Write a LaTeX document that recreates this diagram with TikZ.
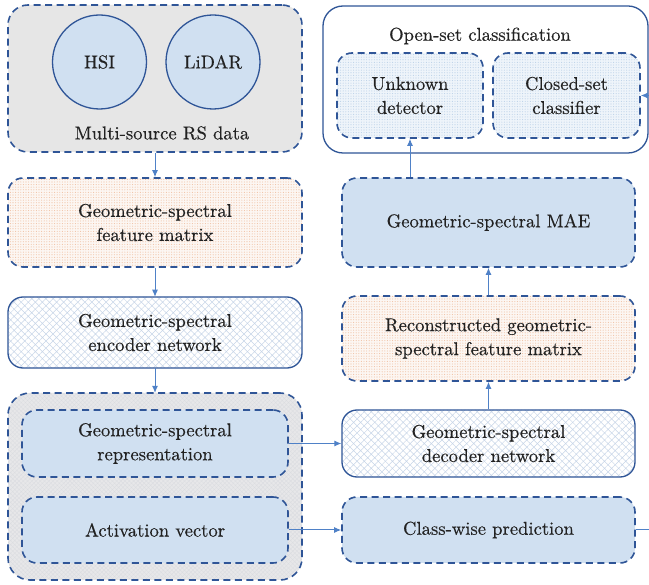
\documentclass[tikz,border=0pt]{standalone}
\usepackage{fontspec}
\setmainfont{lmroman10-regular.otf}[FakeBold=0.4]
\usetikzlibrary{arrows.meta,patterns.meta}
\definecolor{edgeblue}{HTML}{2F5597}
\definecolor{linkblue}{HTML}{4F81C7}
\definecolor{paleblue}{HTML}{D0E0F1}
\definecolor{palegray}{HTML}{E6E6E6}
\definecolor{hatchbase}{HTML}{E7E7E9}
\definecolor{hatchgray}{HTML}{DADCE0}
\definecolor{peachbase}{HTML}{FCF6F2}
\definecolor{peachdot}{HTML}{F0C2A4}
\definecolor{icebase}{HTML}{EEF4FA}
\definecolor{icedot}{HTML}{BCD1E8}
\definecolor{meshline}{HTML}{C8D6E8}
\definecolor{inkgray}{HTML}{222222}
\tikzset{
  every node/.style={text=inkgray, font=\rmfamily\fontsize{18.6}{24}\selectfont, align=center},
  dashbox/.style={draw=edgeblue, line width=1.6pt, dash pattern=on 7pt off 4.5pt, rounded corners=15pt},
  solidbox/.style={draw=edgeblue, line width=1.3pt, rounded corners=15pt},
  bluefill/.style={fill=paleblue},
  grayfill/.style={fill=palegray},
  peachfill/.style={preaction={fill=peachbase}, pattern={Dots[distance=2.6pt, radius=0.55pt]}, pattern color=peachdot},
  icefill/.style={preaction={fill=icebase}, pattern={Dots[distance=2.6pt, radius=0.55pt]}, pattern color=icedot},
  meshfill/.style={preaction={fill=white}, pattern={Hatch[angle=45, distance=5pt, line width=0.5pt]}, pattern color=meshline},
  hatchfill/.style={preaction={fill=hatchbase}, pattern={Hatch[angle=45, distance=3pt, line width=0.3pt]}, pattern color=hatchgray},
  link/.style={draw=linkblue, line width=1pt, -{Latex[length=7pt,width=6pt]}},
  disc/.style={circle, draw=edgeblue, line width=1.3pt, fill=paleblue, minimum size=94pt, inner sep=0pt}
}
\begin{document}
\begin{tikzpicture}[x=1pt,y=-1pt]
\clip (0,0) rectangle (649,585);
\fill[white] (0,0) rectangle (649,585);

% left column
\node[dashbox, grayfill, rounded corners=20pt, minimum width=294pt, minimum height=147pt] (src) at (155,78.5) {};
\node[disc] (hsi) at (99.5,62) {HSI};
\node[disc] (lidar) at (213,62) {LiDAR};
\node (srclabel) at (162,133) {Multi-source RS data};

\node[dashbox, peachfill, minimum width=294pt, minimum height=89pt] (feat) at (155,222.5) {Geometric-spectral\\feature matrix};
\node[solidbox, meshfill, minimum width=294pt, minimum height=71pt] (enc) at (155,332.5) {Geometric-spectral\\encoder network};

\node[dashbox, hatchfill, rounded corners=22pt, minimum width=294pt, minimum height=187pt] (outer) at (155,486.5) {};
\node[dashbox, bluefill, minimum width=266pt, minimum height=67pt] (rep) at (155,443.5) {Geometric-spectral\\representation};
\node[dashbox, bluefill, minimum width=266pt, minimum height=66pt] (act) at (155,530) {Activation vector};

% right column
\node[solidbox, rounded corners=20pt, fill=white, minimum width=325pt, minimum height=147pt] (open) at (485.5,79.5) {};
\node (opentitle) at (480,36) {Open-set classification};
\node[dashbox, icefill, minimum width=146pt, minimum height=85pt] (unk) at (410,95.5) {Unknown\\detector};
\node[dashbox, icefill, minimum width=147pt, minimum height=85pt] (clo) at (566.5,95.5) {Closed-set\\classifier};

\node[dashbox, bluefill, minimum width=293pt, minimum height=89pt] (mae) at (488.5,222.5) {Geometric-spectral MAE};
\node[dashbox, peachfill, minimum width=293pt, minimum height=85pt] (rec) at (488.5,338.5) {Reconstructed geometric-\\spectral feature matrix};
\node[solidbox, meshfill, minimum width=293pt, minimum height=67pt] (dec) at (488.5,443.5) {Geometric-spectral\\decoder network};
\node[dashbox, bluefill, minimum width=293pt, minimum height=66pt] (cls) at (488.5,530) {Class-wise prediction};

% connectors
\coordinate (rail) at (668,0);
\draw[link] (src.south) -- (feat.north);
\draw[link] (feat.south) -- (enc.north);
\draw[link] (enc.south) -- (outer.north);
\draw[link] (rep.east) -- (dec.west);
\draw[link] (act.east) -- (cls.west);
\draw[link] (dec.north) -- (rec.south);
\draw[link] (rec.north) -- (mae.south);
\draw[link] (unk.south |- mae.north) -- (unk.south);
\draw[link] (cls.east) -- (cls.east -| rail) -- (clo.east -| rail) -- (clo.east);
\end{tikzpicture}
\end{document}
